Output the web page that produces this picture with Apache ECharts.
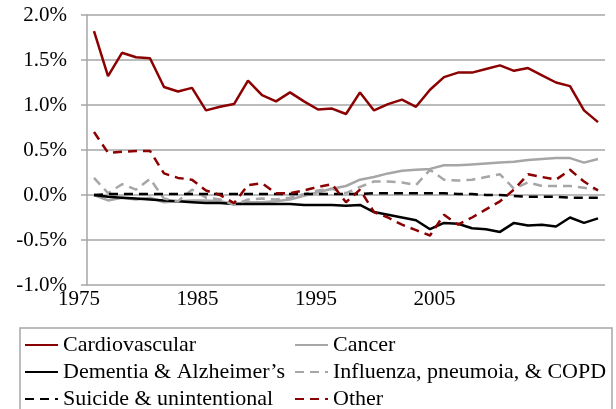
<!DOCTYPE html>
<html>
<head>
<meta charset="utf-8">
<script src="https://cdn.jsdelivr.net/npm/echarts@6/dist/echarts.min.js"></script>
<style>
  html, body { margin: 0; padding: 0; background: #fff; }
  #chart { width: 616px; height: 409px; }
</style>
</head>
<body>
<div id="chart"></div>
<script>
// years on the category axis
var years = ['1975','1976','1977','1978','1979','1980','1981','1982','1983','1984',
             '1985','1986','1987','1988','1989','1990','1991','1992','1993','1994',
             '1995','1996','1997','1998','1999','2000','2001','2002','2003','2004',
             '2005','2006','2007','2008','2009','2010','2011'];

// year labels shown under the plot (first, last, step)
var yearLabelMin = 1975, yearLabelMax = 2005, yearLabelStep = 10;

// y ticks (percent)
var yMin = -1.0, yMax = 2.0, yStep = 0.5;

// annual change, percent
var cardiovascular = [1.82,1.32,1.58,1.53,1.52,1.20,1.15,1.19,0.94,0.98,
                      1.01,1.27,1.11,1.04,1.14,1.04,0.95,0.96,0.90,1.14,
                      0.94,1.01,1.06,0.98,1.17,1.31,1.36,1.36,1.40,1.44,
                      1.38,1.41,1.33,1.25,1.21,0.94,0.81];
var cancer = [0.00,-0.06,-0.03,-0.05,-0.03,-0.08,-0.07,-0.06,-0.06,-0.07,
              -0.10,-0.08,-0.08,-0.07,-0.05,-0.01,0.03,0.07,0.10,0.17,
              0.20,0.24,0.27,0.28,0.29,0.33,0.33,0.34,0.35,0.36,
              0.37,0.39,0.40,0.41,0.41,0.36,0.40];
var dementia = [0.00,-0.02,-0.03,-0.04,-0.05,-0.06,-0.07,-0.08,-0.09,-0.09,
                -0.10,-0.10,-0.10,-0.10,-0.10,-0.11,-0.11,-0.11,-0.12,-0.11,
                -0.19,-0.22,-0.25,-0.28,-0.38,-0.31,-0.32,-0.37,-0.38,-0.41,
                -0.31,-0.34,-0.33,-0.35,-0.25,-0.31,-0.26];
var influenza = [0.19,0.02,0.12,0.06,0.18,-0.04,-0.07,0.06,-0.03,-0.05,
                 -0.11,-0.05,-0.04,-0.05,-0.03,0.01,0.05,0.07,0.02,0.09,
                 0.15,0.15,0.14,0.11,0.28,0.17,0.16,0.17,0.20,0.23,
                 0.07,0.14,0.10,0.10,0.10,0.08,0.06];
var suicide = [0.00,0.01,0.01,0.01,0.01,0.01,0.01,0.01,0.01,0.01,
               0.01,0.01,0.01,0.01,0.01,0.01,0.01,0.01,0.01,0.01,
               0.02,0.02,0.02,0.02,0.02,0.02,0.01,0.01,0.00,0.00,
               -0.01,-0.02,-0.02,-0.02,-0.03,-0.03,-0.03];
var other = [0.70,0.47,0.48,0.49,0.49,0.24,0.19,0.17,0.05,0.00,
             -0.09,0.11,0.13,0.02,0.02,0.05,0.09,0.12,-0.08,0.06,
             -0.19,-0.25,-0.33,-0.39,-0.45,-0.22,-0.33,-0.25,-0.16,-0.07,
             0.06,0.23,0.20,0.17,0.28,0.15,0.05];

var RED = '#8b0000', GREY = '#a6a6a6', BLACK = '#000000';
var FONT = 'Liberation Serif';

function line(name, data, color, dashed) {
    return {
        name: name,
        type: 'line',
        data: data,
        symbol: 'none',
        smooth: false,
        lineStyle: { color: color, width: 2.5, type: dashed ? [9, 6] : 'solid' },
        itemStyle: { color: color }
    };
}

var chart = echarts.init(document.getElementById('chart'));

var legendCommon = {
    orient: 'vertical',
    top: 334,
    height: 90,
    padding: 0,
    itemWidth: 33,
    itemHeight: 12,
    itemGap: 5,
    itemStyle: { opacity: 0 },
    textStyle: { fontFamily: FONT, fontSize: 22, lineHeight: 22, color: '#000' }
};

chart.setOption({
    animation: false,
    backgroundColor: '#fff',
    grid: [
        { left: 87, right: 11, top: 15, bottom: 124 },
        // label strip for the year axis
        { left: 79, width: 355.5, top: 15, bottom: 124 }
    ],
    xAxis: [{
        type: 'category',
        gridIndex: 0,
        data: years,
        boundaryGap: true,
        axisLine: { show: false },
        axisTick: { show: false },
        axisLabel: { show: false }
    }, {
        type: 'value',
        gridIndex: 1,
        min: yearLabelMin, max: yearLabelMax, interval: yearLabelStep,
        axisLine: { show: false },
        axisTick: { show: false },
        splitLine: { show: false },
        axisLabel: {
            margin: 4,
            fontFamily: FONT, fontSize: 21, color: '#000',
            formatter: function (v) { return String(v); }
        }
    }],
    yAxis: [{
        type: 'value',
        gridIndex: 0,
        min: yMin, max: yMax, interval: yStep,
        axisLine: { show: true, lineStyle: { color: GREY, width: 1.5 } },
        axisTick: { show: true, inside: false, length: 6, lineStyle: { color: GREY, width: 1.5 } },
        splitLine: { show: true, lineStyle: { color: GREY, width: 1.5 } },
        axisLabel: {
            margin: 20,
            fontFamily: FONT, fontSize: 21, color: '#000',
            formatter: function (v) { return v.toFixed(1) + '%'; }
        }
    }, {
        type: 'value',
        gridIndex: 1,
        show: false
    }],
    legend: [
        Object.assign({ left: 24, data: ['Cardiovascular', 'Dementia & Alzheimer\u2019s', 'Suicide & unintentional'] }, legendCommon),
        Object.assign({ left: 294, data: ['Cancer', 'Influenza, pneumoia, & COPD', 'Other'] }, legendCommon)
    ],
    graphic: [{
        type: 'rect',
        shape: { x: 20, y: 328, width: 592, height: 100 },
        style: { fill: 'none', stroke: GREY, lineWidth: 1.5 },
        silent: true
    }],
    series: [
        line('Cardiovascular', cardiovascular, RED, false),
        line('Cancer', cancer, GREY, false),
        line('Dementia & Alzheimer\u2019s', dementia, BLACK, false),
        line('Influenza, pneumoia, & COPD', influenza, GREY, true),
        line('Suicide & unintentional', suicide, BLACK, true),
        line('Other', other, RED, true)
    ]
});
</script>
</body>
</html>
